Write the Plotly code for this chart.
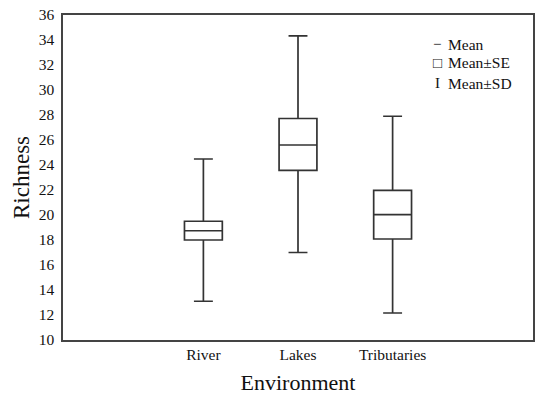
import plotly.graph_objects as go

categories = ["River", "Lakes", "Tributaries"]
mean = [18.74, 25.6, 20.03]
se_low = [18.0, 23.57, 18.08]
se_high = [19.5, 27.72, 21.97]
sd_low = [13.1, 17.0, 12.16]
sd_high = [24.48, 34.33, 27.9]

y_ticks = list(range(10, 37, 2))

fig = go.Figure()
fig.add_trace(go.Box(
    x=categories,
    q1=se_low, median=mean, q3=se_high,
    lowerfence=sd_low, upperfence=sd_high,
    width=0.4, whiskerwidth=0.5,
    fillcolor="rgba(255,255,255,0)",
    line=dict(color="#333333", width=1.7),
    boxpoints=False, hoverinfo="skip", showlegend=False,
))

font = "Liberation Serif, Times New Roman, serif"

legend_items = [("\u2212", "Mean"), ("\u25a1", "Mean\u00b1SE"), ("I", "Mean\u00b1SD")]
legend_y = [44, 63, 83]
for (sym, lab), yy in zip(legend_items, legend_y):
    fig.add_annotation(xref="paper", yref="paper", x=(439 - 63) / 472, y=1 - (yy - 15) / 325,
                       text=sym, showarrow=False, xanchor="center", yanchor="middle",
                       font=dict(family=font, size=15, color="#111"))
    fig.add_annotation(xref="paper", yref="paper", x=(448 - 63) / 472, y=1 - (yy - 15) / 325,
                       text=lab, showarrow=False, xanchor="left", yanchor="middle",
                       font=dict(family=font, size=15.5, color="#111"))

fig.update_layout(
    width=537, height=396,
    margin=dict(l=63, r=2, t=15, b=56),
    paper_bgcolor="white", plot_bgcolor="white",
    font=dict(family=font, color="#111"),
    xaxis=dict(
        type="category", range=[-1.484, 3.484],
        showline=True, mirror=True, linecolor="#444", linewidth=1.5,
        showgrid=False, zeroline=False, ticks="",
        tickfont=dict(size=15.5, family=font),
        title=dict(text="Environment", font=dict(size=22, family=font), standoff=12),
    ),
    yaxis=dict(
        range=[10, 36], tickvals=y_ticks,
        showline=True, mirror=True, linecolor="#444", linewidth=1.5,
        showgrid=False, zeroline=False, ticks="",
        ticklabelstandoff=4,
        tickfont=dict(size=15.5, family=font),
        title=dict(text="Richness", font=dict(size=23, family=font), standoff=3),
    ),
)

fig.write_html("out.html", config={"displayModeBar": False},
               post_script="document.body.style.margin='0';document.body.style.overflow='hidden';")
